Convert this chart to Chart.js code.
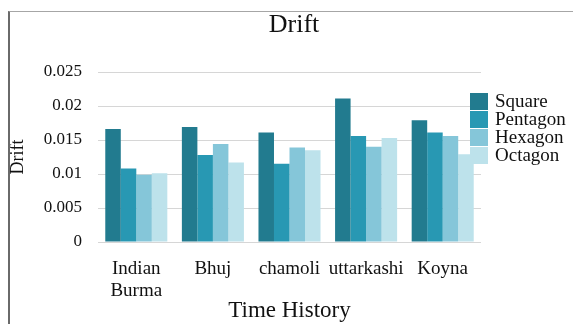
<!DOCTYPE html>
<html>
<head>
<meta charset="utf-8">
<script src="https://cdn.jsdelivr.net/npm/chart.js@4/dist/chart.umd.min.js"></script>
<style>
  html, body { margin: 0; padding: 0; background: #fff; }
  #wrap { position: relative; width: 573px; height: 324px; overflow: hidden; }
  #c { position: absolute; left: 0; top: 0; }
  #frame { position: absolute; left: 8px; top: 11px; width: 600px; height: 320px;
           border-top: 1px solid #a6a6a6; border-left: 2px solid #6a6a6a; pointer-events: none; }
</style>
</head>
<body>
<div id="wrap">
  <canvas id="c" width="573" height="324"></canvas>
  <div id="frame"></div>
</div>
<script>
const categories = [['Indian', 'Burma'], 'Bhuj', 'chamoli', 'uttarkashi', 'Koyna'];
const seriesNames = ['Square', 'Pentagon', 'Hexagon', 'Octagon'];
const squareValues   = [0.0166, 0.0169, 0.0161, 0.0211, 0.0179];
const pentagonValues = [0.0108, 0.0128, 0.0115, 0.0156, 0.0161];
const hexagonValues  = [0.0099, 0.0144, 0.0139, 0.0140, 0.0156];
const octagonValues  = [0.0101, 0.0117, 0.0135, 0.0153, 0.0129];
const yTickLabels = ['0', '0.005', '0.01', '0.015', '0.02', '0.025'];
const seriesColors = ['#227b8f', '#2898b3', '#85c6d9', '#bde2eb'];

const SERIF = "'Liberation Serif', 'Times New Roman', serif";

const allValues = [squareValues, pentagonValues, hexagonValues, octagonValues];
const datasets = seriesNames.map((name, i) => ({
  label: name,
  data: allValues[i],
  backgroundColor: seriesColors[i],
  borderWidth: 0,
  categoryPercentage: 0.81,
  barPercentage: 1.0
}));

const customLegend = {
  id: 'customLegend',
  afterDatasetsDraw(chart) {
    const ctx = chart.ctx;
    const area = chart.chartArea;
    const boxX = area.right - 11;
    const boxW = 18, boxH = 17, step = 18;
    const startY = area.top + 21;
    ctx.save();
    ctx.font = '19px ' + SERIF;
    ctx.textBaseline = 'middle';
    ctx.textAlign = 'left';
    chart.data.datasets.forEach((ds, i) => {
      const y = startY + i * step;
      ctx.fillStyle = ds.backgroundColor;
      ctx.fillRect(boxX, y, boxW, boxH);
      ctx.fillStyle = '#111';
      ctx.fillText(ds.label, boxX + 25, y + boxH / 2 + 1);
    });
    ctx.restore();
  }
};

new Chart(document.getElementById('c'), {
  type: 'bar',
  data: { labels: categories, datasets: datasets },
  plugins: [customLegend],
  options: {
    responsive: false,
    animation: false,
    devicePixelRatio: 1,
    layout: { padding: { left: 15, right: 0, top: 0, bottom: 0 } },
    plugins: {
      legend: { display: false },
      tooltip: { enabled: false },
      title: {
        display: true,
        text: 'Drift',
        color: '#111',
        font: { family: SERIF, size: 26, weight: 'normal', lineHeight: 1.2 },
        padding: { top: 10, bottom: 30.8 }
      }
    },
    scales: {
      x: {
        grid: { display: false },
        border: { display: false },
        ticks: {
          color: '#111',
          font: { family: SERIF, size: 19, lineHeight: 1.16 },
          padding: 8,
          maxRotation: 0,
          autoSkip: false
        },
        title: {
          display: true,
          text: 'Time History',
          color: '#111',
          font: { family: SERIF, size: 23, lineHeight: 1.2 },
          padding: { top: 0, bottom: -1 }
        },
        afterFit(scale) { scale.height = 82; }
      },
      y: {
        min: 0,
        max: 0.025,
        grid: { color: '#d6d6d6', lineWidth: 1, drawTicks: false },
        border: { display: false },
        ticks: {
          stepSize: 0.005,
          color: '#111',
          padding: 16,
          font: { family: SERIF, size: 17 },
          callback: (v, i) => yTickLabels[i]
        },
        title: {
          display: true,
          text: 'Drift',
          color: '#111',
          font: { family: SERIF, size: 18, lineHeight: 1.2 },
          padding: { top: -8, bottom: 0 }
        },
        afterFit(scale) { scale.width = 83; }
      },
      yRight: {
        position: 'right',
        display: true,
        grid: { display: false },
        border: { display: false },
        ticks: { display: false },
        afterFit(scale) { scale.width = 92; }
      }
    }
  }
});
</script>
</body>
</html>
